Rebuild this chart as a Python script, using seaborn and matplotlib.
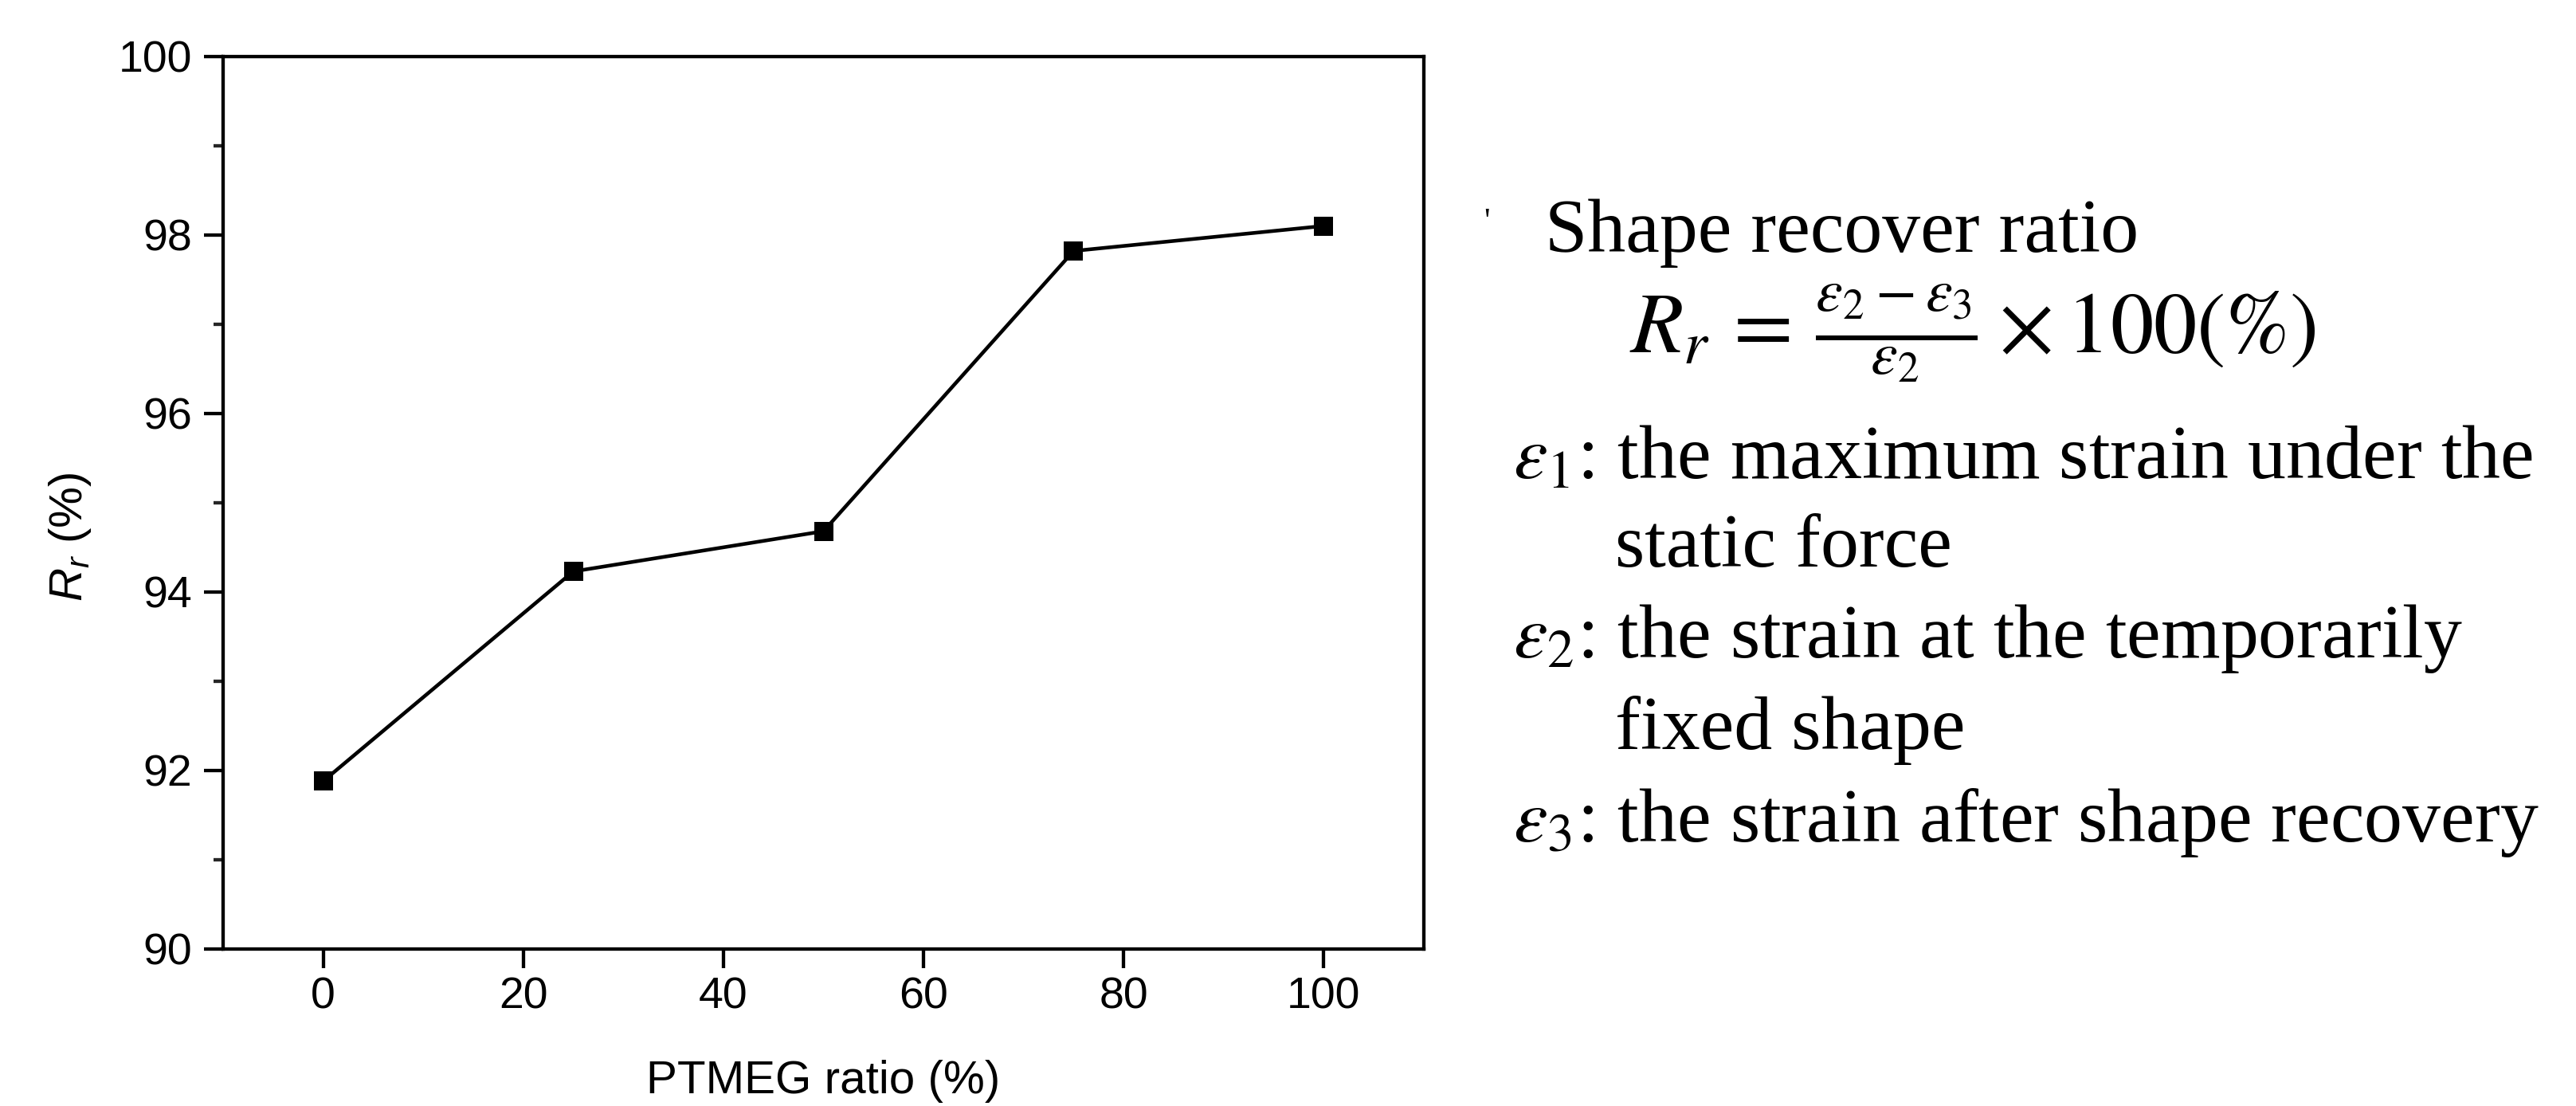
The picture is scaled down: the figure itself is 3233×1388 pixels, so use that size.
import matplotlib
matplotlib.use("Agg")
import matplotlib.pyplot as plt
import seaborn as sns
import pandas as pd
import numpy as np
from matplotlib.ticker import MultipleLocator

# ---- data ----
ptmeg_ratio = [0, 25, 50, 75, 100]
recover_ratio = [91.88, 94.23, 94.68, 97.82, 98.10]
x_ticks = [0, 20, 40, 60, 80, 100]
y_ticks = [90, 92, 94, 96, 98, 100]

sns.set_theme(style="ticks")
plt.rcParams["font.family"] = ["Liberation Sans", "DejaVu Sans"]
plt.rcParams["mathtext.fontset"] = "custom"
plt.rcParams["mathtext.rm"] = "Liberation Sans"
plt.rcParams["mathtext.it"] = "Liberation Sans:italic"

W, H = 3233, 1388
fig = plt.figure(figsize=(W / 100, H / 100), dpi=100)
fig.patch.set_facecolor("white")

l, r, t, b = 280, 1787, 70.7, 1191
ax = fig.add_axes([l / W, 1 - b / H, (r - l) / W, (b - t) / H])
ax.set_facecolor("white")

df = pd.DataFrame({"x": ptmeg_ratio, "y": recover_ratio})
sns.lineplot(data=df, x="x", y="y", ax=ax, color="black", linewidth=3.3,
             marker="s", markersize=17, markeredgewidth=0, markerfacecolor="black")

ax.set_xlim(-10, 110)
ax.set_ylim(90, 100)
ax.set_xticks(x_ticks)
ax.set_yticks(y_ticks)
ax.yaxis.set_minor_locator(MultipleLocator(1))

for s in ax.spines.values():
    s.set_linewidth(3.1)
    s.set_color("black")
    s.set_visible(True)

ax.tick_params(axis="both", which="major", direction="out", length=17, width=3.1,
               labelsize=40, colors="black")
ax.tick_params(axis="y", which="major", pad=11)
ax.tick_params(axis="x", which="major", pad=8)
ax.tick_params(axis="y", which="minor", direction="out", length=8.6, width=3.1)
ax.tick_params(top=False, right=False, which="both")

ax.set_xlabel("PTMEG ratio (%)", fontsize=42, color="black")
ax.set_ylabel(r"$\mathit{R}_{\mathit{r}}$ (%)", fontsize=42, color="black")
ax.xaxis.set_label_coords(0.5, -0.124)
ax.yaxis.set_label_coords(-0.108, 0.462)

# ---- right-hand text ----
serif = ["Liberation Serif", "DejaVu Serif"]
fs = 69

def ftext(x, y, s, size=fs, **kw):
    fig.text(x / W, 1 - y / H, s, family=serif, fontsize=size, va="baseline",
             ha="left", color="black", math_fontfamily="stix", **kw)

ftext(1862, 290, "'", size=30)
ftext(1939, 316, "Shape recover ratio")
ftext(2045, 443, r"$R_r\,=\,\frac{\varepsilon_2-\varepsilon_3}{\varepsilon_2}\times 100(\%)$", size=78)
ftext(1899, 600, r"$\varepsilon_1$: the maximum strain under the")
ftext(2027, 711, "static force")
ftext(1899, 825, r"$\varepsilon_2$: the strain at the temporarily")
ftext(2027, 940, "fixed shape")
ftext(1899, 1056, r"$\varepsilon_3$: the strain after shape recovery")

fig.savefig("out.png", dpi=100, facecolor="white")
